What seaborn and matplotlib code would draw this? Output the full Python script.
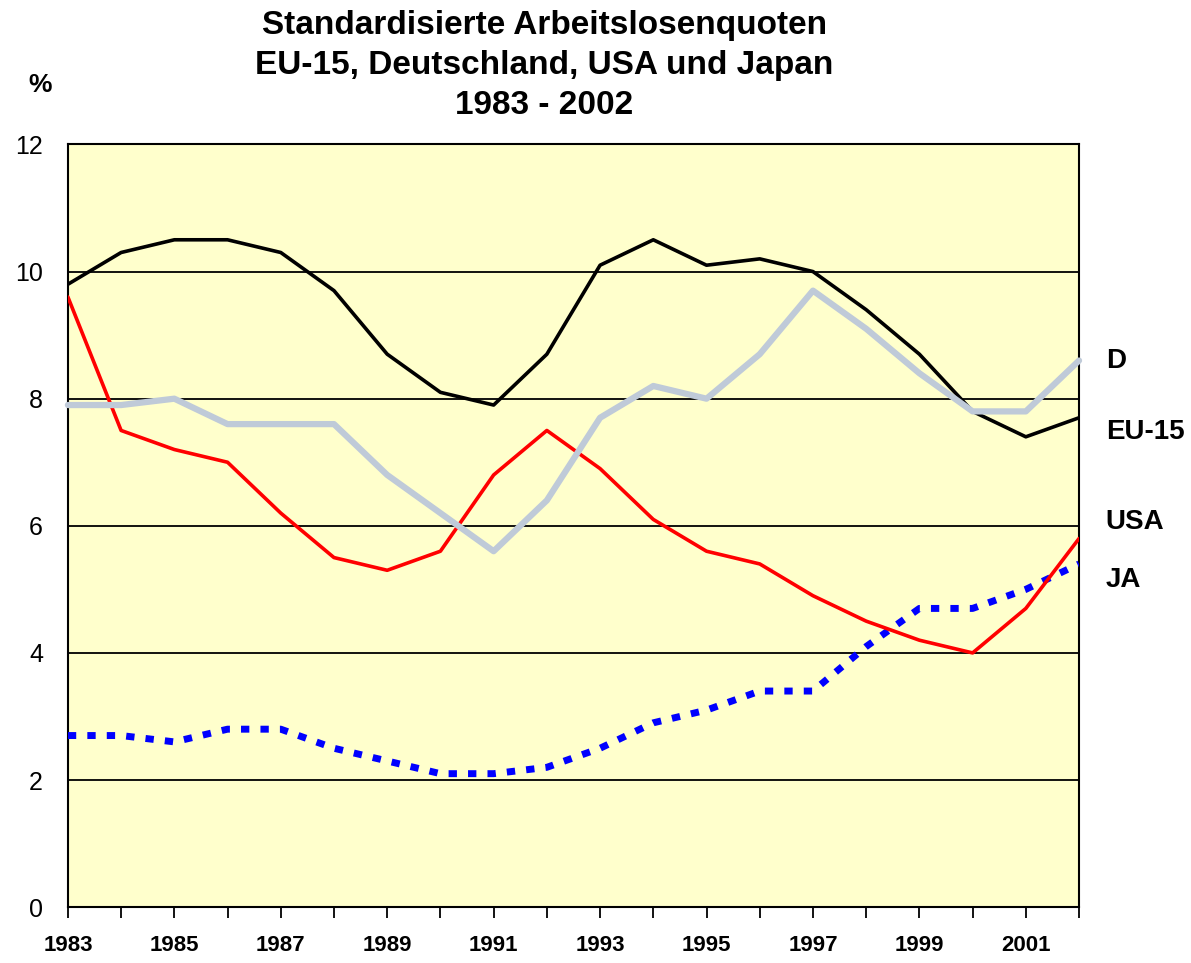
import pandas as pd
import matplotlib.pyplot as plt
import seaborn as sns

years = list(range(1983, 2003))
eu15 = [9.8, 10.3, 10.5, 10.5, 10.3, 9.7, 8.7, 8.1, 7.9, 8.7,
        10.1, 10.5, 10.1, 10.2, 10.0, 9.4, 8.7, 7.8, 7.4, 7.7]
deutschland = [7.9, 7.9, 8.0, 7.6, 7.6, 7.6, 6.8, 6.2, 5.6, 6.4,
               7.7, 8.2, 8.0, 8.7, 9.7, 9.1, 8.4, 7.8, 7.8, 8.6]
usa = [9.6, 7.5, 7.2, 7.0, 6.2, 5.5, 5.3, 5.6, 6.8, 7.5,
       6.9, 6.1, 5.6, 5.4, 4.9, 4.5, 4.2, 4.0, 4.7, 5.8]
japan = [2.7, 2.7, 2.6, 2.8, 2.8, 2.5, 2.3, 2.1, 2.1, 2.2,
         2.5, 2.9, 3.1, 3.4, 3.4, 4.1, 4.7, 4.7, 5.0, 5.4]

df = pd.DataFrame({"Jahr": years, "EU-15": eu15, "D": deutschland,
                   "USA": usa, "JA": japan})

sns.set_style("white")
plt.rcParams["font.family"] = ["Liberation Sans", "DejaVu Sans"]
plt.rcParams["text.color"] = "black"
plt.rcParams["xtick.color"] = "black"
plt.rcParams["ytick.color"] = "black"

fig = plt.figure(figsize=(11.91, 9.63), dpi=100)
ax = fig.add_axes([0.057, 0.058, 0.849, 0.792])
ax.set_facecolor("#FFFFCC")

ax.set_xlim(1983, 2002)
ax.set_ylim(0, 12)
ax.set_yticks(range(0, 13, 2))
for y in range(2, 12, 2):
    ax.axhline(y, color="black", lw=1.3, zorder=1)

sns.lineplot(data=df, x="Jahr", y="JA", ax=ax, color="#0000FF", lw=5,
             linestyle=(0, (1.2, 1.6)), zorder=3)
sns.lineplot(data=df, x="Jahr", y="USA", ax=ax, color="#FF0000", lw=2.6, zorder=4)
sns.lineplot(data=df, x="Jahr", y="EU-15", ax=ax, color="black", lw=2.6, zorder=5)
sns.lineplot(data=df, x="Jahr", y="D", ax=ax, color="#BFCAD8", lw=4.5,
             zorder=6, clip_on=False)

for s in ax.spines.values():
    s.set_color("black")
    s.set_linewidth(1.5)

ax.set_xticks(years)
ax.set_xticklabels([str(y) if (y - 1983) % 2 == 0 else "" for y in years],
                   fontsize=16, fontweight="bold")
ax.tick_params(axis="x", direction="out", length=8, width=1.3, pad=12,
               bottom=True, color="black")
ax.tick_params(axis="y", length=0, pad=18, labelsize=18)
ax.set_xlabel("")
ax.set_ylabel("")

labels = {"D": 8.6, "EU-15": 7.47, "USA": 6.06, "JA": 5.14}
for name, yv in labels.items():
    ax.text(2002.5, yv, name, fontsize=20, fontweight="bold",
            va="center", ha="left")

fig.text(0.034, 0.912, "%", fontsize=19, fontweight="bold", ha="center", va="center")
fig.text(0.457, 0.932,
         "Standardisierte Arbeitslosenquoten\nEU-15, Deutschland, USA und Japan\n1983 - 2002",
         fontsize=24, fontweight="bold", ha="center", va="center", linespacing=1.38)

plt.savefig("out.png", dpi=100)
plt.close()
